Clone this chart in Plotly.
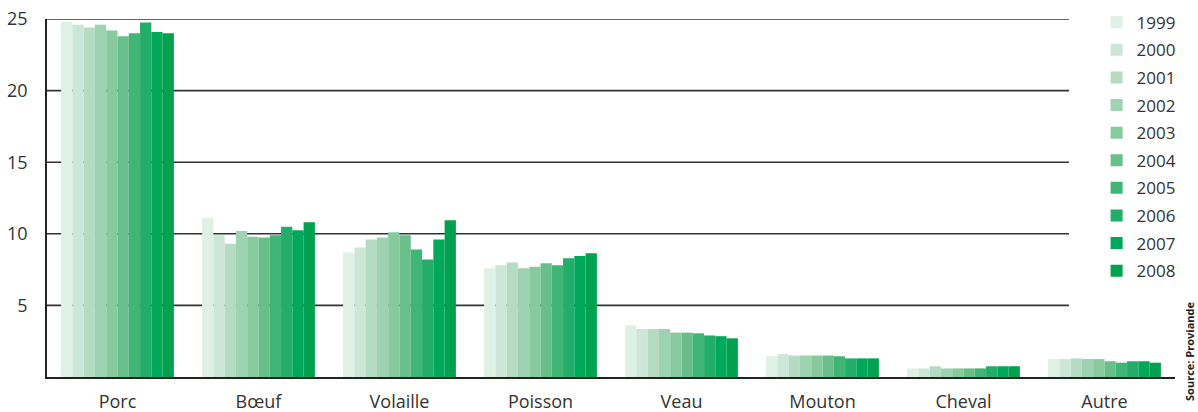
import plotly.graph_objects as go

categories = ["Porc", "Bœuf", "Volaille", "Poisson", "Veau", "Mouton", "Cheval", "Autre"]
years = ["1999", "2000", "2001", "2002", "2003", "2004", "2005", "2006", "2007", "2008"]

v1999 = [24.8, 11.1, 8.7, 7.6, 3.6, 1.45, 0.6, 1.25]
v2000 = [24.6, 9.9, 9.05, 7.8, 3.35, 1.6, 0.6, 1.25]
v2001 = [24.4, 9.3, 9.6, 8.0, 3.35, 1.5, 0.75, 1.3]
v2002 = [24.6, 10.2, 9.75, 7.6, 3.35, 1.5, 0.6, 1.25]
v2003 = [24.2, 9.8, 10.1, 7.7, 3.1, 1.5, 0.6, 1.25]
v2004 = [23.8, 9.75, 9.9, 7.95, 3.1, 1.5, 0.6, 1.1]
v2005 = [24.0, 9.9, 8.9, 7.8, 3.05, 1.45, 0.6, 1.0]
v2006 = [24.75, 10.5, 8.2, 8.3, 2.9, 1.3, 0.75, 1.1]
v2007 = [24.1, 10.25, 9.6, 8.45, 2.85, 1.3, 0.75, 1.1]
v2008 = [24.0, 10.8, 10.95, 8.65, 2.7, 1.3, 0.75, 1.0]
series = [v1999, v2000, v2001, v2002, v2003, v2004, v2005, v2006, v2007, v2008]

colors = ["#dff0e5", "#cce6d7", "#b5dcc3", "#9dd3b1", "#86ca9d",
          "#68bf8a", "#3fb676", "#22ae69", "#00a85a", "#00a24f"]

y_ticks = [5, 10, 15, 20, 25]

fig = go.Figure()
for yr, vals, col in zip(years, series, colors):
    fig.add_trace(go.Bar(
        x=categories, y=vals, name=yr, legendgroup=yr,
        marker=dict(color=col, line=dict(width=0)),
    ))

# horizontal grid lines (shortened, as in the original)
for t in y_ticks:
    fig.add_shape(type="line", xref="paper", yref="y", x0=0, x1=0.906, y0=t, y1=t,
                  line=dict(color="#333333", width=1.6), layer="below")

fig.update_layout(
    width=1198, height=412,
    margin=dict(l=47, r=23, t=19, b=35, autoexpand=False),
    paper_bgcolor="white", plot_bgcolor="white",
    barmode="group", bargap=0.2, bargroupgap=0,
    font=dict(family="Open Sans, sans-serif", size=18, color="#333333"),
    showlegend=True,
    legend=dict(x=0.9305, xanchor="left", y=1.04, yanchor="top",
                font=dict(size=17, color="#333333"), maxheight=1.0,
                tracegroupgap=2.5, itemwidth=30, bgcolor="rgba(0,0,0,0)"),
    xaxis=dict(showgrid=False, showline=True, linecolor="#222222", linewidth=1.6,
               ticks="", ticklabelstandoff=8, automargin=False,
               tickfont=dict(size=18, color="#333333")),
    yaxis=dict(range=[0, 25], tickvals=y_ticks, showgrid=False, zeroline=False,
               showline=True, linecolor="#222222", linewidth=1.6, ticks="",
               ticklabelstandoff=14, automargin=False,
               tickfont=dict(size=18, color="#333333")),
    annotations=[dict(text="<b>Source: Proviande</b>", xref="paper", yref="paper",
                      x=1.0, y=0.07, xanchor="center", yanchor="middle", xshift=15,
                      textangle=-90, showarrow=False,
                      font=dict(size=11, color="#222222"))],
)

fig.write_html("out.html", config={"displayModeBar": False},
               post_script="document.body.style.margin='0';")
